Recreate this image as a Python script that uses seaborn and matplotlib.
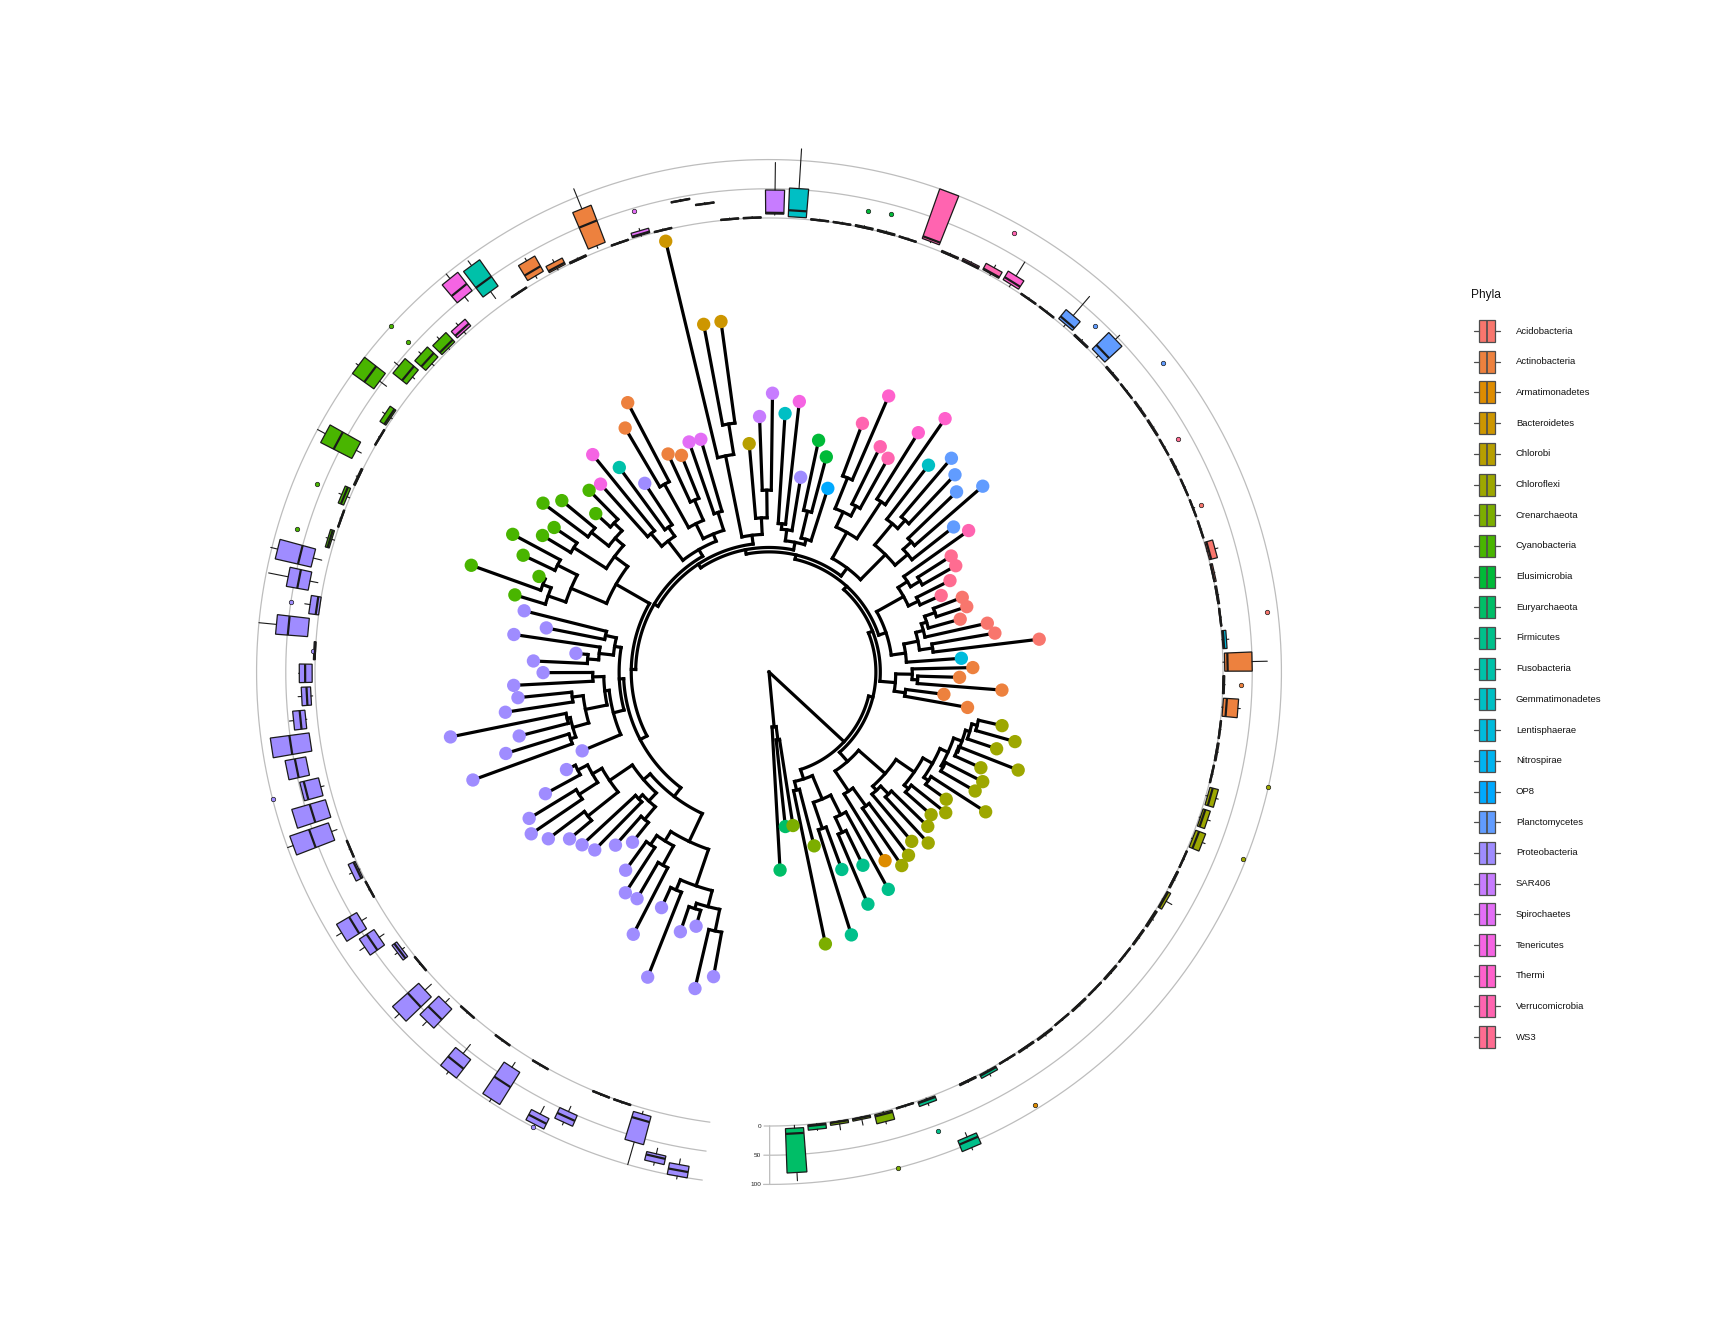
import numpy as np
import pandas as pd
import matplotlib
matplotlib.use("Agg")
import matplotlib.pyplot as plt
from matplotlib.collections import LineCollection
import seaborn as sns

sns.set_theme(style="white")
plt.rcParams["font.family"] = ["Liberation Sans", "DejaVu Sans"]

PHYLA = ["Acidobacteria", "Actinobacteria", "Armatimonadetes", "Bacteroidetes",
         "Chlorobi", "Chloroflexi", "Crenarchaeota", "Cyanobacteria",
         "Elusimicrobia", "Euryarchaeota", "Firmicutes", "Fusobacteria",
         "Gemmatimonadetes", "Lentisphaerae", "Nitrospirae", "OP8",
         "Planctomycetes", "Proteobacteria", "SAR406", "Spirochaetes",
         "Tenericutes", "Thermi", "Verrucomicrobia", "WS3"]

# tree topology, internal node labels = distance from root
ARCH = "(t0,(t1,t2)62)50"
FIRM = "((t3,t4)110,((t5,t6)150,((t7,t8)160,t9)145)125)102"
CHLF = ("((t10,(t11,t12)150)130,((t13,(t14,t15)155)145,((t16,t17)165,((t18,t19)175,"
        "((t20,t21)180,((t22,t23)185,(t24,(t25,t26)195)190)186)178)170)160)140)108")
ACT1 = "((t27,t28)125,((t29,t30)135,t31)130)115"
ACID = "((t32,((t33,t34)150,(t35,(t36,(t37,t38)160)150)145)138)125,((t39,t40)150,((t41,t42)160,t43)150)140)112"
PLAN = "(((t44,(t45,t46)175)165,((t47,t48)185,t49)175)150,((t50,t51)185,((t52,t53)170,(t54,t55)190)160)145)118"
MIX1 = "((t56,(t57,t58)150)125,(t59,(t60,t61)135)130)120"
BACT = "(((t62,t63)165,t64)140,((t65,t66)228,t67)200)125"
MIX2 = "(((t68,t69)152,((t70,t71)170,(t72,t73)195)150)135,((t74,t75)160,(t76,t77)165)150)128"
CYAN = "((((t78,t79)195,(t80,t81)205)185,(t82,t83)210)175,((t84,t85)215,((t86,t87)220,t88)212)195)160"
PROA = ("(((t89,t90)152,(t91,(t92,t93)165)155)142,(((t94,t95)160,((t96,t97)180,"
        "((t98,t99)188,(t100,t101)190)185)170)150,t102)146)136")
PROB = ("(((((t103,t104)195,(t105,t106)205)185,(t107,t108)210)175,((t109,t110)165,(t111,t112)175)160)150,"
        "(((t113,t114)190,(t115,t116)200)180,((t117,t118)215,((t119,t120)225,(t121,t122)240)220)205)170)142")
TREE = ("(" + ARCH + ",(" + FIRM + ",(" + CHLF + ",(" + ACT1 + ",(" + ACID + ",(" + PLAN + ",(" + MIX1
        + ",(" + BACT + ",(" + MIX2 + ",(" + CYAN + ",(" + PROA + "," + PROB + ")132"
        + ")125)121)117)113)109)105)101)97)93)0;")

TIP_PHYLUM = (["Euryarchaeota"] * 2 + ["Crenarchaeota"] * 3 + ["Firmicutes"] * 5 + ["Armatimonadetes"]
              + ["Chloroflexi"] * 16 + ["Actinobacteria"] * 5 + ["Lentisphaerae"] + ["Acidobacteria"] * 6
              + ["WS3"] * 4 + ["Verrucomicrobia"] + ["Planctomycetes"] * 5 + ["Gemmatimonadetes"]
              + ["Thermi", "Thermi", "Verrucomicrobia", "Verrucomicrobia", "Thermi", "Verrucomicrobia"]
              + ["OP8", "Elusimicrobia", "Elusimicrobia", "Proteobacteria", "Tenericutes", "Gemmatimonadetes",
                 "SAR406", "SAR406", "Chlorobi", "Bacteroidetes", "Bacteroidetes", "Bacteroidetes",
                 "Spirochaetes", "Spirochaetes"] + ["Actinobacteria"] * 4
              + ["Proteobacteria", "Fusobacteria", "Tenericutes", "Tenericutes"]
              + ["Cyanobacteria"] * 11 + ["Proteobacteria"] * 34)

TIP_DEPTH = [180, 141, 141, 252, 163, 250, 191, 229, 195, 225, 201,
             213, 209, 201, 212, 201, 196, 205, 198, 234, 216, 218, 211, 243, 218, 232, 217,
             183, 160, 212, 173, 185, 175, 247, 208, 203, 180, 189, 188, 171, 184, 195, 196, 222,
             213, 257, 236, 246, 255, 237, 280, 256, 222, 228, 273, 241,
             175, 202, 215, 179, 247, 235, 253, 232, 208, 321, 321, 402,
             220, 221, 212, 218, 276, 257, 205, 230, 254, 229,
             232, 213, 244, 256, 235, 240, 264, 247, 226, 287, 241,
             229, 206, 234, 176, 214, 205, 232, 229, 242, 295, 234, 250, 286, 184,
             204, 231, 255, 261, 251, 236, 231, 226, 210, 198, 222, 239, 238, 268,
             235, 298, 249, 240, 295, 281]

# boxplot summaries per tip (abundance, 0-100)
BOX_LO = [0, 0, 0, 0, 0, 0, 0, 80, 0, 0, 0,
          0, 0, 0, 0, 0, 0, 0, 0, 0, 0, 0, 0, 0, 0, 0, 0,
          0, 0, 0, 0, 0, 0, 0, 0, 0, 0, 0, 0, 0, 0, 0, 0, 0,
          0, 0, 0, 0, 0, 0, 0, 0, 0, 0, 0, 8,
          0, 0, 0, 0, 0, 3, 5, 0, 0, 30, 42, 0,
          0, 0, 5, 0, 0, 5, 0, 15, 40, 0,
          0, 0, 10, 40, 0, 0, 15, 0, 0, 0, 0,
          12, 10, 0, 15, 0, 5, 5, 18, 17, 29, 9, 13, 10, 0,
          0, 0, 30, 20, 5, 0, 10, 5, 0, 40, 0, 20, 0, 60,
          40, 0, 0, 5, 60, 70]
BOX_Q1 = [5, 1, 1, 1, 2, 0, 2, 88, 0, 1, 0,
          0, 1, 0, 0, 0, 0, 0, 0, 0, 1, 0, 0, 2, 2, 3, 0,
          0, 0, 2, 0, 3, 1, 0, 0, 0, 1, 0, 0, 0, 0, 0, 0, 0,
          0, 0, 5, 0, 5, 0, 0, 5, 3, 0, 0, 10,
          0, 0, 0, 0, 0, 3, 7, 0, 0, 31, 43, 0,
          2, 0, 10, 0, 3, 10, 0, 30, 50, 5,
          3, 5, 15, 55, 3, 0, 25, 0, 5, 0, 5,
          27, 24, 0, 15, 0, 5, 8, 20, 17, 29, 15, 13, 20, 0,
          2, 0, 40, 30, 10, 0, 25, 15, 0, 60, 0, 30, 0, 75,
          50, 0, 0, 10, 70, 80]
BOX_MED = [14, 3, 2, 2, 5, 1, 4, 95, 1, 3, 1,
           1, 2, 1, 1, 1, 1, 1, 1, 2, 3, 1, 1, 8, 6, 8, 1,
           1, 1, 8, 1, 8, 3, 1, 1, 1, 4, 1, 1, 1, 1, 1, 1, 1,
           1, 1, 15, 1, 10, 1, 1, 10, 5, 2, 1, 14,
           1, 1, 1, 1, 1, 14, 9, 1, 1, 32, 44, 1,
           4, 1, 50, 1, 6, 20, 1, 50, 65, 10,
           8, 15, 25, 75, 6, 1, 60, 1, 10, 1, 8,
           50, 43, 5, 49, 1, 17, 15, 29, 51, 48, 41, 41, 55, 1,
           5, 1, 55, 45, 15, 1, 50, 40, 1, 80, 1, 60, 1, 85,
           60, 1, 1, 20, 75, 90]
BOX_Q3 = [81, 10, 6, 5, 18, 2, 10, 108, 3, 8, 2,
          3, 4, 2, 3, 2, 3, 2, 3, 4, 8, 3, 2, 20, 15, 18, 2,
          3, 2, 28, 3, 50, 8, 2, 3, 4, 15, 2, 2, 2, 3, 2, 3, 3,
          2, 3, 45, 3, 25, 2, 2, 22, 15, 5, 3, 100,
          2, 3, 3, 2, 2, 52, 48, 2, 2, 33, 45, 2,
          10, 2, 78, 3, 15, 40, 2, 85, 90, 20,
          25, 30, 45, 100, 15, 2, 85, 3, 15, 2, 12,
          90, 62, 17, 70, 3, 27, 24, 41, 84, 65, 48, 73, 90, 2,
          15, 2, 80, 60, 20, 2, 85, 60, 2, 100, 2, 95, 2, 95,
          70, 2, 2, 60, 85, 100]
BOX_HI = [95, 12, 16, 15, 22, 3, 14, 112, 4, 12, 3,
          4, 6, 3, 4, 3, 4, 3, 4, 6, 19, 4, 3, 25, 20, 22, 3,
          4, 3, 32, 4, 76, 12, 3, 4, 5, 20, 3, 4, 3, 4, 3, 4, 4,
          3, 4, 55, 5, 68, 3, 3, 50, 20, 6, 4, 100,
          3, 4, 4, 3, 3, 120, 95, 3, 3, 34, 46, 3,
          14, 3, 115, 4, 20, 45, 3, 95, 100, 25,
          30, 35, 55, 105, 20, 3, 100, 5, 20, 3, 15,
          102, 96, 26, 100, 4, 28, 30, 48, 84, 65, 48, 73, 100, 3,
          20, 3, 90, 70, 25, 3, 95, 70, 3, 105, 3, 100, 3, 100,
          75, 3, 3, 100, 90, 105]
OUT_TIP = [4, 6, 10, 23, 26, 30, 33, 38, 41, 44, 47, 52, 57, 58, 68, 79, 79, 86, 88, 91, 93, 99, 116]
OUT_VAL = [100, 60, 93, 95, 100, 31, 81, 15, 28, 80, 37, 83, 34, 30, 45, 100, 60, 60, 68, 50, 5, 100, 100]


def hue_pal(n, c=100.0, l=65.0):
    # ggplot2 default discrete hues (HCL -> sRGB)
    h = np.radians(np.linspace(15, 375, n + 1)[:-1])
    xn, yn, zn = 0.95047, 1.0, 1.08883
    un = 4 * xn / (xn + 15 * yn + 3 * zn)
    vn = 9 * yn / (xn + 15 * yn + 3 * zn)
    y = ((l + 16) / 116) ** 3
    up = c * np.cos(h) / (13 * l) + un
    vp = c * np.sin(h) / (13 * l) + vn
    x = 9 * y * up / (4 * vp)
    z = y * (12 - 3 * up - 20 * vp) / (4 * vp)
    m = np.array([[3.2404542, -1.5371385, -0.4985314],
                  [-0.9692660, 1.8760108, 0.0415560],
                  [0.0556434, -0.2040259, 1.0572252]])
    rgb = m @ np.vstack([x, np.full_like(x, y), z])
    rgb = np.where(rgb <= 0.0031308, 12.92 * rgb, 1.055 * np.clip(rgb, 0, None) ** (1 / 2.4) - 0.055)
    return [tuple(col) for col in np.clip(rgb, 0, 1).T]


def parse_newick(s):
    s = s.strip().rstrip(";")
    pos = 0

    def node():
        nonlocal pos
        kids = []
        if s[pos] == "(":
            pos += 1
            while True:
                kids.append(node())
                if s[pos] == ",":
                    pos += 1
                else:
                    break
            pos += 1
        start = pos
        while pos < len(s) and s[pos] not in ",()":
            pos += 1
        return {"label": s[start:pos], "children": kids}

    return node()


THETA0 = np.radians(-86.8)
STEP = np.radians(2.84)
RING0, RING_K = 412.0, 0.53
N = len(TIP_DEPTH)


def ring_r(v):
    return RING0 + RING_K * v


pal = dict(zip(PHYLA, hue_pal(len(PHYLA))))

root = parse_newick(TREE)
tip_theta = np.zeros(N)
counter = [0]


def layout(n):
    if not n["children"]:
        i = int(n["label"][1:])
        n["theta"] = THETA0 + STEP * counter[0]
        n["r"] = TIP_DEPTH[i]
        tip_theta[i] = n["theta"]
        counter[0] += 1
    else:
        for c in n["children"]:
            layout(c)
        n["theta"] = np.mean([c["theta"] for c in n["children"]])
        n["r"] = float(n["label"])


layout(root)

segs = []


def collect(n):
    if not n["children"]:
        return
    th = [c["theta"] for c in n["children"]]
    arc = np.linspace(min(th), max(th), 80)
    segs.append(np.column_stack([arc, np.full_like(arc, n["r"])]))
    for c in n["children"]:
        segs.append(np.array([[c["theta"], n["r"]], [c["theta"], c["r"]]]))
        collect(c)


collect(root)

fig = plt.figure(figsize=(17.28, 13.44), dpi=100)
RMAX = 520.0
rad_px = RMAX * 1.102
cx, cy = 769.0, 672.0
ax = fig.add_axes([(cx - rad_px) / 1728, (1344 - cy - rad_px) / 1344, 2 * rad_px / 1728, 2 * rad_px / 1344],
                  projection="polar")
ax.set_theta_zero_location("E")
ax.set_theta_direction(1)

lc = LineCollection(segs, colors="black", linewidths=2.3, capstyle="projecting", joinstyle="miter", zorder=2)
ax.add_collection(lc, autolim=False)

tips = pd.DataFrame({"theta": tip_theta, "r": TIP_DEPTH, "phylum": TIP_PHYLUM})
sns.scatterplot(data=tips, x="theta", y="r", hue="phylum", hue_order=PHYLA, palette=pal,
                s=92, linewidth=0, legend=False, ax=ax, zorder=4)

# grey rings of the boxplot layer
ring_th = np.linspace(THETA0 - 1.1 * STEP, THETA0 + (N - 1) * STEP + 1.0 * STEP, 600)
for v in (0, 50, 100):
    ax.plot(ring_th, np.full_like(ring_th, ring_r(v)), color="#bdbdbd", lw=0.9, zorder=1)
ax.plot([ring_th[0], ring_th[0]], [ring_r(0), ring_r(100)], color="#bdbdbd", lw=0.9, zorder=1)
for v in (0, 50, 100):
    ax.plot([ring_th[0] - 0.012, ring_th[0]], [ring_r(v), ring_r(v)], color="#bdbdbd", lw=0.9)
    ax.annotate(str(v), xy=(ring_th[0], ring_r(v)), xytext=(-6, 0), textcoords="offset points",
                ha="right", va="center", fontsize=4.6, color="#222222")

stats = []
for i in range(N):
    stats.append(dict(whislo=ring_r(BOX_LO[i]), q1=ring_r(BOX_Q1[i]), med=ring_r(BOX_MED[i]),
                      q3=ring_r(BOX_Q3[i]), whishi=ring_r(BOX_HI[i]),
                      fliers=[ring_r(v) for t, v in zip(OUT_TIP, OUT_VAL) if t == i]))
edge = "#1a1a1a"
bp = ax.bxp(stats, positions=tip_theta, widths=0.8 * STEP, patch_artist=True, showcaps=False,
            manage_ticks=False,
            boxprops=dict(edgecolor=edge, linewidth=0.9),
            medianprops=dict(color=edge, linewidth=1.6),
            whiskerprops=dict(color=edge, linewidth=0.8),
            flierprops=dict(marker="o", markersize=3.2, markeredgecolor=edge, markeredgewidth=0.5))
for i, patch in enumerate(bp["boxes"]):
    patch.set_facecolor(pal[TIP_PHYLUM[i]])
for i, fl in enumerate(bp["fliers"]):
    fl.set_markerfacecolor(pal[TIP_PHYLUM[i]])

ax.set_rlim(0, RMAX)
ax.axis("off")

# legend
lax = fig.add_axes([1460 / 1728, 1 - 1060 / 1344, 180 / 1728, 780 / 1344])
lax.set_xlim(1460, 1640)
lax.set_ylim(1060, 280)
lax.axis("off")
rows = 331 + 30.7 * np.arange(len(PHYLA))
key_stats = [dict(whislo=1474, q1=1479, med=1487, q3=1495, whishi=1500, fliers=[]) for _ in PHYLA]
kw = dict(positions=rows, widths=22, patch_artist=True, showcaps=False, manage_ticks=False,
          boxprops=dict(edgecolor="#4d4d4d", linewidth=0.9),
          medianprops=dict(color="#4d4d4d", linewidth=1.2),
          whiskerprops=dict(color="#4d4d4d", linewidth=0.9))
try:
    kb = lax.bxp(key_stats, orientation="horizontal", **kw)
except TypeError:
    kb = lax.bxp(key_stats, vert=False, **kw)
for patch, name in zip(kb["boxes"], PHYLA):
    patch.set_facecolor(pal[name])
for y, name in zip(rows, PHYLA):
    lax.text(1516, y, name, ha="left", va="center", fontsize=6.8, color="#111111")
lax.text(1471, 295, "Phyla", ha="left", va="center", fontsize=8.6, color="#111111")

fig.savefig("out.png", dpi=100)
